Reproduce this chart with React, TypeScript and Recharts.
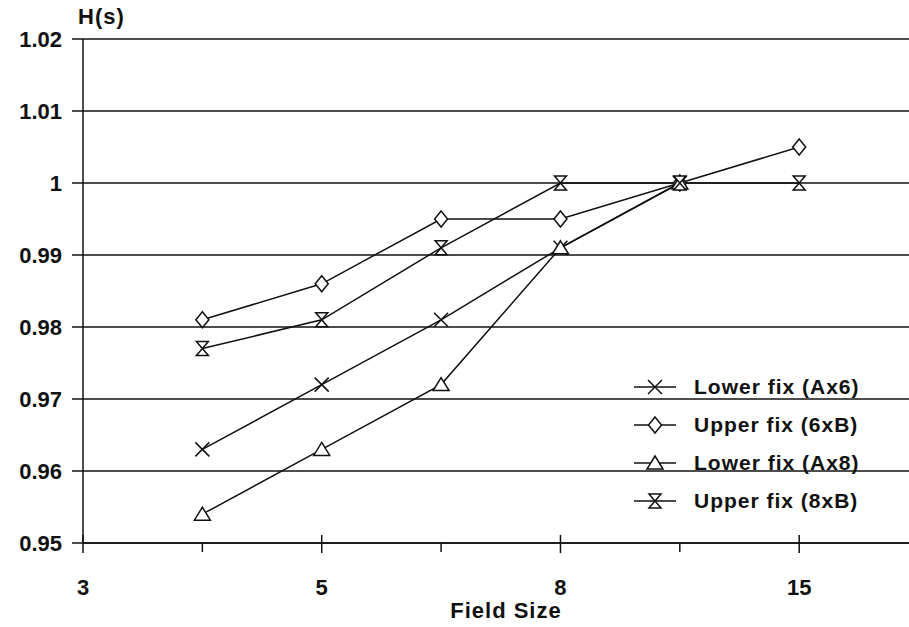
import React from 'react';
import {
    LineChart,
    Line,
    XAxis,
    YAxis,
    CartesianGrid
} from 'recharts';

// positions along the field size axis (0 = "3" at the left edge)
const FIELD_POS = [1, 2, 3, 4, 5, 6];
const X_TICKS = [0, 1, 2, 3, 4, 5, 6];
const X_LABELS: Record<number, string> = { 0: '3', 2: '5', 4: '8', 6: '15' };

const Y_TICKS = [0.95, 0.96, 0.97, 0.98, 0.99, 1, 1.01, 1.02];

const LOWER_AX6 = [0.963, 0.972, 0.981, 0.991, 1.0];
const UPPER_6XB = [0.981, 0.986, 0.995, 0.995, 1.0, 1.005];
const LOWER_AX8 = [0.954, 0.963, 0.972, 0.991, 1.0];
const UPPER_8XB = [0.977, 0.981, 0.991, 1.0, 1.0, 1.0];

const chartData = FIELD_POS.map((pos, i) => ({
    pos,
    lowerAx6: LOWER_AX6[i],
    upper6xB: UPPER_6XB[i],
    lowerAx8: LOWER_AX8[i],
    upper8xB: UPPER_8XB[i]
}));

const FONT = '"Liberation Sans", Arial, sans-serif';
const INK = '#111';

type Marker = 'cross' | 'diamond' | 'triangle' | 'hourglass';

const MarkerShape = ({ cx, cy, kind }: { cx: number; cy: number; kind: Marker }) => {
    const common = { stroke: INK, strokeWidth: 1.5, fill: '#fff' };
    if (kind === 'cross') {
        return (
            <g>
                <line x1={cx - 7} y1={cy - 7} x2={cx + 7} y2={cy + 7} stroke={INK} strokeWidth={1.5} />
                <line x1={cx - 7} y1={cy + 7} x2={cx + 7} y2={cy - 7} stroke={INK} strokeWidth={1.5} />
            </g>
        );
    }
    if (kind === 'diamond') {
        return <polygon points={`${cx},${cy - 8} ${cx + 6.5},${cy} ${cx},${cy + 8} ${cx - 6.5},${cy}`} {...common} />;
    }
    if (kind === 'triangle') {
        return <polygon points={`${cx},${cy - 7} ${cx + 8},${cy + 6} ${cx - 8},${cy + 6}`} {...common} />;
    }
    return <path d={`M${cx - 6},${cy - 7} L${cx + 6},${cy - 7} L${cx - 6},${cy + 7} L${cx + 6},${cy + 7} Z`} {...common} />;
};

const makeDot = (kind: Marker) => (props: any) => {
    const { cx, cy, index } = props;
    if (cx == null || cy == null) return <g key={`${kind}-${index}`} />;
    return (
        <g key={`${kind}-${index}`}>
            <MarkerShape cx={cx} cy={cy} kind={kind} />
        </g>
    );
};

const SERIES: { key: string; name: string; marker: Marker }[] = [
    { key: 'lowerAx6', name: 'Lower fix (Ax6)', marker: 'cross' },
    { key: 'upper6xB', name: 'Upper fix (6xB)', marker: 'diamond' },
    { key: 'lowerAx8', name: 'Lower fix (Ax8)', marker: 'triangle' },
    { key: 'upper8xB', name: 'Upper fix (8xB)', marker: 'hourglass' }
];

const XTick = (props: any) => {
    const { x, y, payload } = props;
    const label = X_LABELS[payload.value];
    if (label === undefined) {
        return <line x1={x} y1={y} x2={x} y2={y + 9} stroke={INK} strokeWidth={1.5} />;
    }
    return (
        <g>
            <line x1={x} y1={y - 8} x2={x} y2={y + 10} stroke={INK} strokeWidth={1.5} />
            <text x={x} y={y + 52} textAnchor="middle" fill={INK} fontSize={22} fontWeight="bold" fontFamily={FONT}>
                {label}
            </text>
        </g>
    );
};

// legend drawn as an overlay, the chart keeps its full plot height
const LegendBox = () => (
    <div style={{ position: 'absolute', left: 632, top: 368, fontFamily: FONT, fontSize: 21, fontWeight: 'bold', color: INK, letterSpacing: 1 }}>
        {SERIES.map(s => (
            <div key={s.key} style={{ display: 'flex', alignItems: 'center', height: 38 }}>
                <svg width={62} height={24} style={{ overflow: 'visible' }}>
                    <line x1={2} y1={12} x2={44} y2={12} stroke={INK} strokeWidth={1.5} />
                    <MarkerShape cx={23} cy={12} kind={s.marker} />
                </svg>
                <span>{s.name}</span>
            </div>
        ))}
    </div>
);

const App: React.FC = () => {
    return (
        <div style={{ position: 'absolute', left: 0, top: 0, width: 909, height: 627, background: '#fff', overflow: 'hidden' }}>
            <div style={{ position: 'absolute', left: 78, top: 4, fontFamily: FONT, fontSize: 22, fontWeight: 'bold', color: INK, letterSpacing: 1 }}>
                H(s)
            </div>
            <LineChart width={909} height={627} data={chartData} margin={{ top: 39, right: 0, left: 0, bottom: 0 }}>
                <CartesianGrid vertical={false} stroke={INK} strokeWidth={1.5} horizontalValues={Y_TICKS} />
                <XAxis
                    dataKey="pos"
                    type="number"
                    domain={[0, 6.92]}
                    ticks={X_TICKS}
                    allowDataOverflow
                    height={84}
                    tickSize={0}
                    tickMargin={0}
                    tickLine={false}
                    axisLine={{ stroke: INK, strokeWidth: 1.5 }}
                    tick={<XTick />}
                    interval={0}
                    label={{ value: 'Field Size', position: 'insideBottom', offset: 9, dx: 10, fill: INK, fontSize: 22, fontWeight: 'bold', fontFamily: FONT, letterSpacing: 1 }}
                />
                <YAxis
                    type="number"
                    domain={[0.95, 1.02]}
                    ticks={Y_TICKS}
                    width={83}
                    tickSize={11}
                    tickMargin={10}
                    tickLine={{ stroke: INK, strokeWidth: 1.5 }}
                    axisLine={{ stroke: INK, strokeWidth: 1.5 }}
                    tickFormatter={(v: number) => (v === 1 ? '1' : v.toFixed(2))}
                    tick={{ fill: INK, fontSize: 22, fontWeight: 'bold', fontFamily: FONT }}
                    interval={0}
                />
                {SERIES.map(s => (
                    <Line
                        key={s.key}
                        dataKey={s.key}
                        name={s.name}
                        stroke={INK}
                        strokeWidth={1.5}
                        dot={makeDot(s.marker)}
                        activeDot={false}
                        isAnimationActive={false}
                        connectNulls={false}
                    />
                ))}
            </LineChart>
            <LegendBox />
        </div>
    );
};

export default App;
